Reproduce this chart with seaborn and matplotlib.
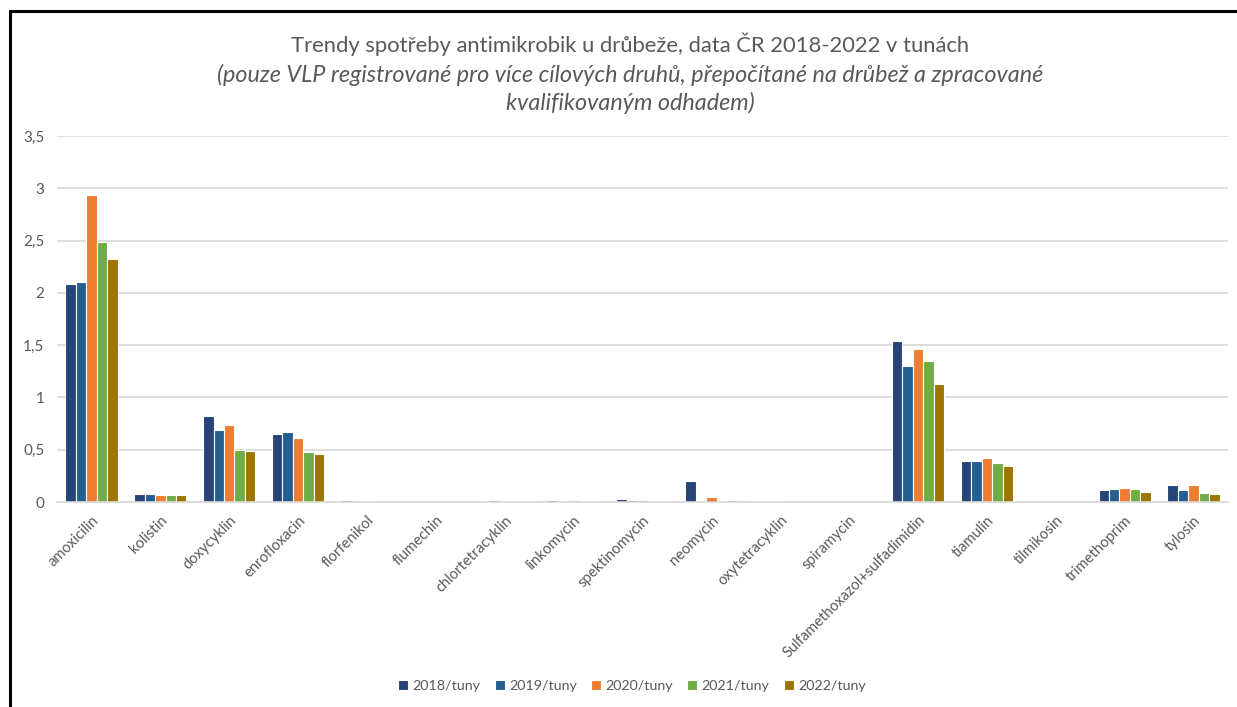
import matplotlib
matplotlib.use("Agg")
import matplotlib.pyplot as plt
from matplotlib.patches import Rectangle
import seaborn as sns
import pandas as pd

drugs = ["amoxicilin", "kolistin", "doxycyklin", "enrofloxacin", "florfenikol",
         "flumechin", "chlortetracyklin", "linkomycin", "spektinomycin", "neomycin",
         "oxytetracyklin", "spiramycin", "Sulfamethoxazol+sulfadimidin", "tiamulin",
         "tilmikosin", "trimethoprim", "tylosin"]

years = ["2018/tuny", "2019/tuny", "2020/tuny", "2021/tuny", "2022/tuny"]

t2018 = [2.08, 0.08, 0.82, 0.65, 0.02, 0.0, 0.010, 0.015, 0.025, 0.20, 0.010, 0.0, 1.54, 0.39, 0.0, 0.11, 0.16]
t2019 = [2.10, 0.08, 0.69, 0.67, 0.0, 0.0, 0.015, 0.010, 0.020, 0.010, 0.010, 0.0, 1.30, 0.39, 0.0, 0.12, 0.11]
t2020 = [2.94, 0.07, 0.74, 0.61, 0.01, 0.0, 0.010, 0.020, 0.020, 0.045, 0.010, 0.0, 1.46, 0.42, 0.0, 0.13, 0.16]
t2021 = [2.49, 0.065, 0.50, 0.48, 0.0, 0.0, 0.010, 0.010, 0.010, 0.010, 0.0, 0.0, 1.35, 0.37, 0.0, 0.12, 0.085]
t2022 = [2.32, 0.07, 0.49, 0.46, 0.0, 0.0, 0.010, 0.010, 0.010, 0.020, 0.0, 0.0, 1.125, 0.34, 0.0, 0.095, 0.08]

colors = ["#264478", "#255E91", "#ED7D31", "#70AD47", "#9E7400"]

series = [t2018, t2019, t2020, t2021, t2022]
df = pd.DataFrame({
    "lek": [d for s in series for d in drugs],
    "rok": [y for y, s in zip(years, series) for _ in s],
    "tuny": [v for s in series for v in s],
})

sns.set_theme(style="white")
plt.rcParams["font.family"] = ["Lato", "DejaVu Sans"]
text_col = "#595959"

fig = plt.figure(figsize=(12.37, 7.07), dpi=100)
ax = fig.add_axes([57 / 1237, 1 - 502 / 707, (1228 - 57) / 1237, (502 - 136) / 707])

sns.barplot(data=df, x="lek", y="tuny", hue="rok", order=drugs, hue_order=years,
            palette=colors, saturation=1, width=0.76, linewidth=0.8,
            edgecolor="white", errorbar=None, ax=ax, legend=True)

ax.set_ylim(0, 3.5)
ax.set_xlim(-0.5, len(drugs) - 0.5)
ax.set_yticks([0, 0.5, 1, 1.5, 2, 2.5, 3, 3.5])
ax.set_yticklabels(["0", "0,5", "1", "1,5", "2", "2,5", "3", "3,5"],
                   color=text_col, fontsize=11)
ax.yaxis.grid(True, color="#D9D9D9", linewidth=1.2)
ax.set_axisbelow(True)
for side in ["top", "right", "left"]:
    ax.spines[side].set_visible(False)
ax.spines["bottom"].set_color("#D9D9D9")
ax.spines["bottom"].set_linewidth(1.2)
ax.tick_params(axis="both", length=0)
ax.tick_params(axis="y", pad=9)
ax.set_xlabel("")
ax.set_ylabel("")
ax.set_xticks(range(len(drugs)))
ax.set_xticklabels(drugs, rotation=45, ha="right", rotation_mode="anchor",
                   color=text_col, fontsize=10.6)
ax.tick_params(axis="x", pad=8)

handles, labels = ax.get_legend_handles_labels()
ax.legend(handles, labels, loc="center", bbox_to_anchor=(632 / 1237, 1 - 686 / 707),
          bbox_transform=fig.transFigure, ncol=5, frameon=False, fontsize=10.3,
          labelcolor=text_col, handlelength=0.7, handleheight=0.7,
          handletextpad=0.3, columnspacing=1.0)

fig.text(630 / 1237, 1 - 44 / 707,
         "Trendy spotřeby antimikrobik u drůbeže, data ČR 2018-2022 v tunách",
         ha="center", va="center", fontsize=15.8, color=text_col)
fig.text(630 / 1237, 1 - 75 / 707,
         "(pouze VLP registrované pro více cílových druhů, přepočítané na drůbež a zpracované",
         ha="center", va="center", fontsize=16.8, color=text_col, style="italic")
fig.text(630 / 1237, 1 - 103 / 707, "kvalifikovaným odhadem)",
         ha="center", va="center", fontsize=16.8, color=text_col, style="italic")

fig.patches.append(Rectangle((10 / 1237, -0.05), 1.1, 1 - 11 / 707 + 0.05,
                             transform=fig.transFigure, fill=False,
                             edgecolor="black", linewidth=2.2))

fig.savefig("out.png", dpi=100)
